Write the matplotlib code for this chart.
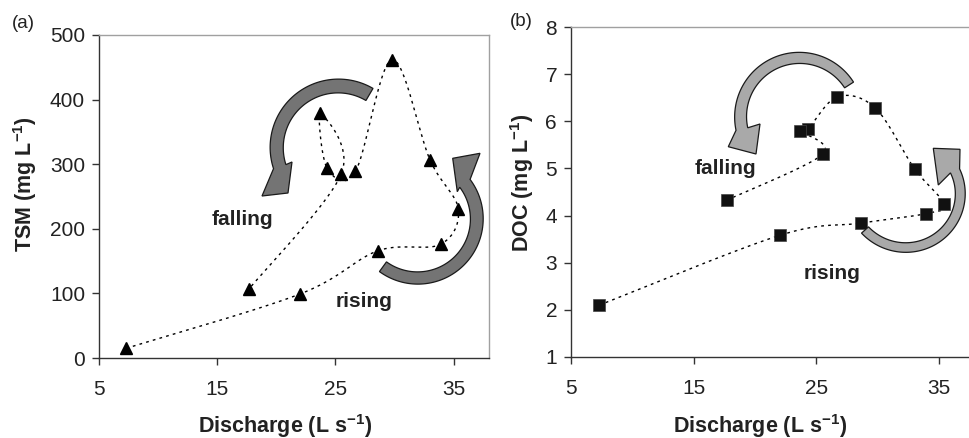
import numpy as np
import matplotlib
matplotlib.use('Agg')
import matplotlib.pyplot as plt
from matplotlib.patches import Polygon

plt.rcParams['font.family'] = ['Liberation Sans', 'DejaVu Sans']
plt.rcParams['mathtext.fontset'] = 'custom'
plt.rcParams['mathtext.rm'] = 'Liberation Sans'
plt.rcParams['mathtext.bf'] = 'Liberation Sans:bold'
plt.rcParams['mathtext.it'] = 'Liberation Sans:italic'

# ---- data (samples in time order through the storm event) ----
discharge = [7.3, 22.0, 28.6, 33.9, 35.4, 33.0, 29.8, 26.7, 24.3, 23.7, 25.5, 17.7]
tsm = [15, 99, 166, 176, 231, 307, 462, 289, 294, 379, 285, 107]
doc = [2.10, 3.58, 3.84, 4.04, 4.24, 4.99, 6.28, 6.52, 5.83, 5.80, 5.30, 4.33]
x_ticks = [5, 15, 25, 35]
tsm_ticks = [0, 100, 200, 300, 400, 500]
doc_ticks = [1, 2, 3, 4, 5, 6, 7, 8]

W, H = 970, 438
fig = plt.figure(figsize=(W / 100, H / 100), dpi=100)
fig.patch.set_facecolor('white')

axA = fig.add_axes([99 / W, 1 - 358 / H, 390 / W, 323 / H])
axB = fig.add_axes([571 / W, 1 - 357 / H, 405 / W, 330 / H])

axA.set_xlim(5, 38)
axA.set_ylim(0, 500)
axB.set_xlim(5, 38)
axB.set_ylim(1, 8)


def smooth(ax, xs, ys, n=40):
    pts = ax.transData.transform(np.column_stack([xs, ys]))
    m = len(pts)
    out = [pts[0]]
    t = np.linspace(0, 1, n)[1:, None]
    for i in range(m - 1):
        p0 = pts[i - 1] if i > 0 else pts[i]
        p1, p2 = pts[i], pts[i + 1]
        p3 = pts[i + 2] if i + 2 < m else pts[i + 1]
        c1 = p1 + (p2 - p0) / 6.0
        c2 = p2 - (p3 - p1) / 6.0
        seg = (1 - t) ** 3 * p1 + 3 * (1 - t) ** 2 * t * c1 + 3 * (1 - t) * t ** 2 * c2 + t ** 3 * p2
        out.extend(seg)
    return ax.transData.inverted().transform(np.array(out))


def style(ax, yticks, ylabel, ylab_xy, xlab_xy):
    ax.set_xticks(x_ticks)
    ax.set_yticks(yticks)
    ax.tick_params(direction='out', length=5, width=1, color='#333333',
                   labelsize=15, labelcolor='#222222')
    ax.tick_params(axis='x', pad=11)
    ax.tick_params(axis='y', pad=5)
    for s in ['left', 'bottom']:
        ax.spines[s].set_color('#333333')
        ax.spines[s].set_linewidth(1.0)
    for s in ['top', 'right']:
        ax.spines[s].set_color('#a0a0a0')
        ax.spines[s].set_linewidth(1.0)
    ax.set_xlabel(r'Discharge (L s$^{\mathbf{-1}}$)', fontsize=15.5, fontweight='bold',
                  color='#222222', va='center', ha='center')
    ax.set_ylabel(ylabel, fontsize=15.5, fontweight='bold', color='#222222',
                  va='center', ha='center')
    ax.xaxis.set_label_coords(*xlab_xy)
    ax.yaxis.set_label_coords(*ylab_xy)


style(axA, tsm_ticks, r'TSM (mg L$^{\mathbf{-1}}$)', (-0.19, 0.537), (0.476, -0.21))
style(axB, doc_ticks, r'DOC (mg L$^{\mathbf{-1}}$)', (-0.122, 0.529), (0.467, -0.209))

# smoothed dotted lines
sA = smooth(axA, discharge, tsm)
axA.plot(sA[:, 0], sA[:, 1], color='black', lw=1.0, ls=(0, (2, 3)), zorder=2)
axA.plot(discharge, tsm, ls='none', marker='^', ms=8.5, color='black', zorder=3)

sB = smooth(axB, discharge, doc)
axB.plot(sB[:, 0], sB[:, 1], color='black', lw=1.0, ls=(0, (2, 3)), zorder=2)
axB.plot(discharge, doc, ls='none', marker='s', ms=8, color='#111111',
         markeredgecolor='#444444', markeredgewidth=0.5, zorder=3)

# annotations
axA.text(17.17, 215, 'falling', fontsize=15, fontweight='bold', color='#222222',
         ha='center', va='center')
axA.text(27.44, 87, 'rising', fontsize=15, fontweight='bold', color='#222222',
         ha='center', va='center')
axB.text(17.58, 4.99, 'falling', fontsize=15, fontweight='bold', color='#222222',
         ha='center', va='center')
axB.text(26.25, 2.78, 'rising', fontsize=15, fontweight='bold', color='#222222',
         ha='center', va='center')

fig.text(23.5 / W, 1 - 23 / H, '(a)', fontsize=13.5, color='#222222', ha='center', va='center')
fig.text(521.5 / W, 1 - 22 / H, '(b)', fontsize=13.5, color='#222222', ha='center', va='center')


# curved block arrows (decoration), given in pixel coordinates (y downwards)
def arc_arrow(cx, cy, r0, r1, hw0, hw1, th0, th1, head, color):
    th = np.linspace(th0, th1, 100)
    s = np.linspace(0, 1, 100)
    r = r0 + (r1 - r0) * s
    hw = hw0 + (hw1 - hw0) * s
    rad = np.radians(th)
    outer = np.column_stack([cx + (r + hw) * np.cos(rad), cy - (r + hw) * np.sin(rad)])
    inner = np.column_stack([cx + (r - hw) * np.cos(rad), cy - (r - hw) * np.sin(rad)])
    pts = np.vstack([outer, np.array(head, float), inner[::-1]])
    fpts = np.column_stack([pts[:, 0] / W, 1 - pts[:, 1] / H])
    fig.patches.append(Polygon(fpts, closed=True, transform=fig.transFigure,
                               facecolor=color, edgecolor='#1a1a1a', lw=0.9,
                               joinstyle='miter', zorder=5))


dark = '#747474'
light = '#a9a9a9'
arc_arrow(338.3, 147.6, 61.6, 61.6, 7, 6.5, 59.6, 198,
          [(262, 196), (288, 193), (292, 162)], dark)
arc_arrow(417.7, 218.9, 59.1, 59.1, 6, 6.5, -126, 37,
          [(480, 153.3), (452.7, 158.3), (457.3, 191.7)], dark)
arc_arrow(799.5, 116.8, 58.9, 58.9, 5.3, 6, 32.7, 192,
          [(728.3, 146.7), (756, 154), (760, 124)], light)
arc_arrow(907.5, 192, 57, 52, 4.7, 5, -138.2, 24,
          [(960, 149.3), (933.3, 148.3), (938.3, 185)], light)

fig.savefig('out.png', dpi=100, facecolor='white')
